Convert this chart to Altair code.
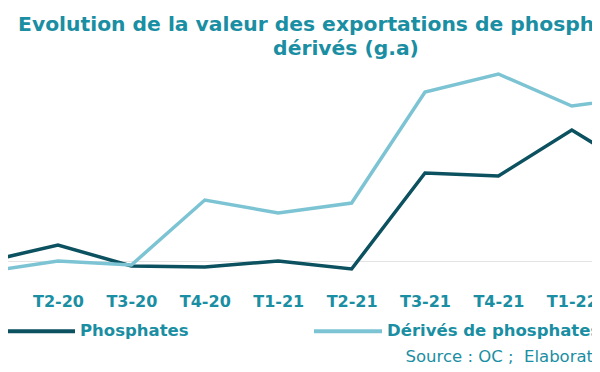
import altair as alt
import pandas as pd

# ---- data (year-on-year growth, %) ----
quarters = ["T1-20", "T2-20", "T3-20", "T4-20", "T1-21", "T2-21",
            "T3-21", "T4-21", "T1-22", "T2-22"]
phosphates = [-0.6, 9.6, -3.0, -3.6, 0.0, -4.8, 52.8, 51.0, 78.6, 51.6]
derives = [-6.6, 0.0, -2.4, 36.6, 28.8, 34.8, 101.4, 112.2, 93.0, 99.0]
series_names = ["Phosphates", "Dérivés de phosphates"]
series_colors = ["#0b5160", "#7cc4d4"]
title_lines = ["Evolution de la valeur des exportations de phosphates et",
               "dérivés (g.a)"]
source_text = "Source : OC ;\u00a0 Elaboration DEPF"

rows = []
for i, q in enumerate(quarters):
    rows.append({"idx": i, "trimestre": q, "serie": series_names[0], "valeur": phosphates[i]})
    rows.append({"idx": i, "trimestre": q, "serie": series_names[1], "valeur": derives[i]})
df = pd.DataFrame(rows)

label_expr = "[" + ",".join("'" + q + "'" for q in quarters) + "][datum.value]"
teal = "#1a8ea2"
font = "DejaVu Sans"

chart = alt.Chart(df).mark_line(strokeWidth=3.5, clip=True).encode(
    x=alt.X(
        "idx:Q",
        scale=alt.Scale(domain=[0.21, 8.384], nice=False, zero=False),
        axis=alt.Axis(
            values=list(range(len(quarters))),
            labelExpr=label_expr,
            title=source_text,
            domain=False, ticks=False, grid=False,
            labelFlush=False, labelOverlap=False,
            labelFont=font, labelFontSize=16, labelFontWeight="bold",
            labelColor=teal, labelPadding=16,
            titleFont=font, titleFontSize=16.5, titleFontWeight="normal",
            titleColor=teal, titleAnchor="start", titleAlign="left",
            titleX=405, titleY=79, titleBaseline="middle",
        ),
    ),
    y=alt.Y(
        "valeur:Q",
        scale=alt.Scale(domain=[-10, 120], nice=False, zero=False),
        axis=alt.Axis(values=[0], grid=True, gridColor="#e3e3e3", gridWidth=1,
                      domain=False, ticks=False, labels=False, title=None),
    ),
    color=alt.Color(
        "serie:N",
        scale=alt.Scale(domain=series_names, range=series_colors),
        legend=alt.Legend(
            orient="none", legendX=5, legendY=234, direction="horizontal",
            title=None, symbolType="stroke", symbolSize=4624,
            symbolStrokeWidth=4, labelFont=font, labelFontSize=16.5,
            labelFontWeight="bold", labelColor=teal, labelOffset=3,
            columnPadding=117, padding=0, labelLimit=400,
        ),
    ),
).properties(
    width=600,
    height=216.67,
    padding={"left": -8, "top": 53, "right": -8, "bottom": 86.33},
    autosize=alt.AutoSizeParams(type="none"),
    title=alt.TitleParams(
        text=title_lines, anchor="middle", frame="group", dx=46,
        font=font, fontSize=20.3, fontWeight="bold", color=teal,
        lineHeight=24, offset=2,
    ),
).configure_view(stroke=None)

chart.save("out.html", embed_options={"renderer": "svg", "actions": False})
